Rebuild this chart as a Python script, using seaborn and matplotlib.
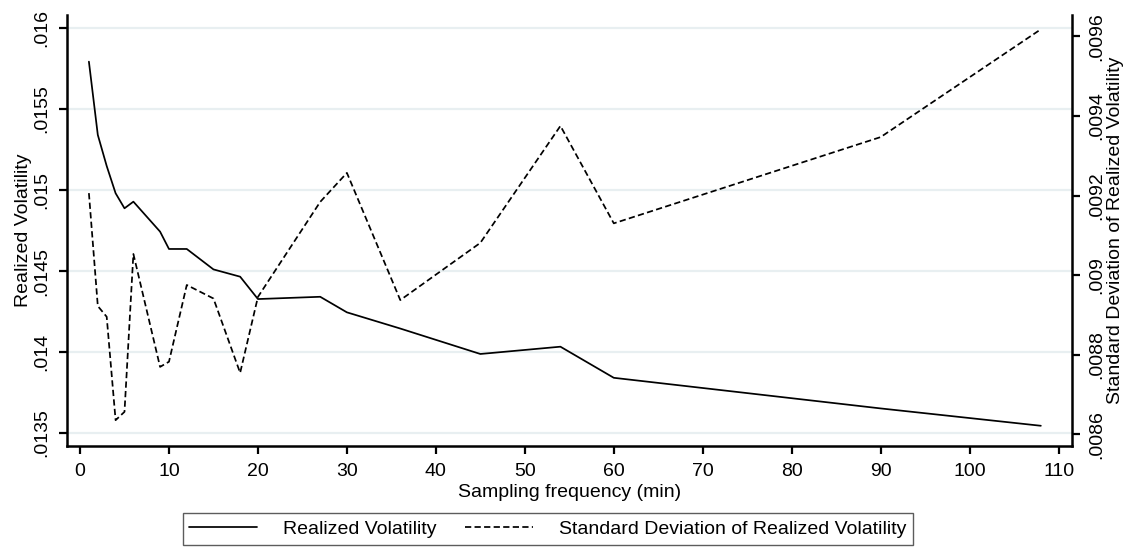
import pandas as pd
import matplotlib
matplotlib.use("Agg")
import matplotlib.pyplot as plt
from matplotlib.ticker import FuncFormatter
import seaborn as sns

# Sampling frequencies (minutes)
freq = [1, 2, 3, 4, 5, 6, 9, 10, 12, 15, 18, 20, 27, 30, 36, 45, 54, 60, 90, 108]

# Realized volatility (left axis)
rv = [0.015792, 0.015340, 0.015148, 0.014980, 0.014887, 0.014928, 0.014743,
      0.014636, 0.014636, 0.014510, 0.014465, 0.014327, 0.014341, 0.014245,
      0.014145, 0.013988, 0.014033, 0.013841, 0.013652, 0.013545]

# Standard deviation of realized volatility (right axis)
rv_sd = [0.009206, 0.008922, 0.008895, 0.008635, 0.008656, 0.009053, 0.008769,
         0.008782, 0.008975, 0.008941, 0.008754, 0.008945, 0.009184, 0.009257,
         0.008937, 0.009081, 0.009375, 0.009130, 0.009347, 0.009618]

xticks = list(range(0, 111, 10))
yticks_left = [0.0135, 0.014, 0.0145, 0.015, 0.0155, 0.016]
yticks_right = [0.0086, 0.0088, 0.009, 0.0092, 0.0094, 0.0096]

df = pd.DataFrame({"freq": freq, "rv": rv, "sd": rv_sd})

sns.set_style("white")
plt.rcParams["font.family"] = ["Liberation Sans", "DejaVu Sans"]
plt.rcParams["font.size"] = 14
plt.rcParams["text.color"] = "black"
plt.rcParams["axes.labelcolor"] = "black"
plt.rcParams["xtick.color"] = "black"
plt.rcParams["ytick.color"] = "black"

fig = plt.figure(figsize=(11.34, 5.47), dpi=100)
ax = fig.add_axes([0.0591, 0.1846, 0.8862, 0.788])
ax2 = ax.twinx()

sns.lineplot(data=df, x="freq", y="rv", ax=ax, color="black", lw=1.25,
             legend=False)
sns.lineplot(data=df, x="freq", y="sd", ax=ax2, color="black", lw=1.25,
             linestyle=(0, (3.6, 1.9)), legend=False)

# axis ranges
ax.set_xlim(-1.46, 111.5)
ax.set_ylim(0.013420, 0.016080)
ax2.set_ylim(0.008570, 0.009654)

fmt = FuncFormatter(lambda v, _: f"{v:.4f}".lstrip("0").rstrip("0"))
ax.set_xticks(xticks)
ax.set_yticks(yticks_left)
ax2.set_yticks(yticks_right)
ax.yaxis.set_major_formatter(fmt)
ax2.yaxis.set_major_formatter(fmt)

# gridlines from the left axis only
ax.grid(axis="y", color="#e8eff1", lw=1.6)
ax.grid(axis="x", visible=False)
ax2.grid(False)
ax.set_axisbelow(True)

for a in (ax, ax2):
    a.spines["top"].set_visible(False)
    a.tick_params(length=6, width=1.6, color="black", labelcolor="black",
                  labelsize=14, pad=6)
ax.spines["right"].set_visible(False)
ax2.spines["left"].set_visible(False)
ax2.spines["bottom"].set_visible(False)
for s in ("left", "bottom"):
    ax.spines[s].set_linewidth(1.8)
    ax.spines[s].set_color("black")
ax2.spines["right"].set_linewidth(1.8)
ax2.spines["right"].set_color("black")
ax.tick_params(axis="x", bottom=True)
ax.tick_params(axis="y", left=True)
ax2.tick_params(axis="y", right=True)

for lab in ax.get_yticklabels():
    lab.set_rotation(90)
    lab.set_va("center")
for lab in ax2.get_yticklabels():
    lab.set_rotation(90)
    lab.set_va("center")

ax.set_xlabel("Sampling frequency (min)", fontsize=14, labelpad=3)
ax.set_ylabel("Realized Volatility", fontsize=14, labelpad=1)
ax2.set_ylabel("Standard Deviation of Realized Volatility", fontsize=14,
               labelpad=1)

handles = [ax.lines[0], ax2.lines[0]]
labels = ["Realized Volatility", "Standard Deviation of Realized Volatility"]
leg = fig.legend(handles, labels, loc="center", bbox_to_anchor=(0.483, 0.033),
                 ncol=2, fontsize=14, frameon=True, fancybox=False,
                 handlelength=3.5, handletextpad=1.3, columnspacing=1.5,
                 borderpad=0.35, borderaxespad=0)
leg.get_frame().set_edgecolor("#333333")
leg.get_frame().set_linewidth(1.0)

fig.savefig("out.png", dpi=100)
